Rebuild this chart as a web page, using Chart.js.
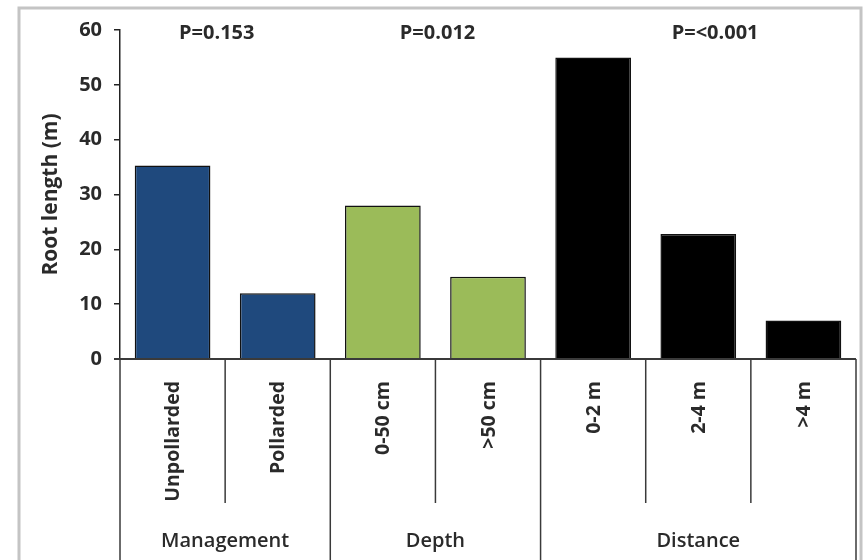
<!DOCTYPE html>
<html>
<head>
<meta charset="utf-8">
<script src="https://cdn.jsdelivr.net/npm/chart.js@4"></script>
<style>
  body { margin: 0; background: #fff; }
  #wrap { position: relative; width: 865px; height: 560px; }
</style>
</head>
<body>
<div id="wrap"><canvas id="rootChart" width="865" height="560"></canvas></div>
<script>
const categories = ['Unpollarded', 'Pollarded', '0-50 cm', '>50 cm', '0-2 m', '2-4 m', '>4 m'];
const rootLength = [35.3, 12, 28, 15, 55, 22.8, 7];
const groups = ['Management', 'Depth', 'Distance'];
const groupSizes = [2, 2, 3];
const pValues = ['P=0.153', 'P=0.012', 'P=<0.001'];
const groupColors = ['#1F497D', '#9BBB59', '#000000'];

const fontFamily = '"Open Sans", Lato, sans-serif';

// colour of each bar comes from the group it sits in
const barColors = [];
groupSizes.forEach((n, g) => { for (let i = 0; i < n; i++) barColors.push(groupColors[g]); });

// frame, category axis with the two-level labels, and the P values
const axisPlugin = {
    id: 'axisPlugin',
    beforeDraw(chart) {
        const ctx = chart.ctx;
        ctx.save();
        ctx.strokeStyle = '#c4c4c4';
        ctx.lineWidth = 3;
        ctx.strokeRect(19, 8, 842, 600);
        ctx.restore();
    },
    afterDraw(chart) {
        const ctx = chart.ctx;
        const x = chart.scales.x;
        const area = chart.chartArea;
        const base = chart.scales.y.getPixelForValue(0);
        const edge = i => x.getPixelForValue(i - 0.5);

        ctx.save();
        ctx.strokeStyle = '#3a3a3a';
        ctx.lineWidth = 2;
        ctx.beginPath();
        ctx.moveTo(area.left - 6, base);
        ctx.lineTo(edge(categories.length), base);
        ctx.stroke();

        ctx.lineWidth = 1.5;
        let start = 0;
        const groupEdges = [0];
        groupSizes.forEach(n => { start += n; groupEdges.push(start); });
        for (let i = 0; i <= categories.length; i++) {
            const isGroupEdge = groupEdges.includes(i);
            ctx.beginPath();
            ctx.moveTo(edge(i), base);
            ctx.lineTo(edge(i), isGroupEdge ? 560 : 503);
            ctx.stroke();
        }

        // category labels, rotated
        ctx.fillStyle = '#2a2a2a';
        ctx.font = 'bold 19.5px ' + fontFamily;
        ctx.textAlign = 'right';
        ctx.textBaseline = 'middle';
        categories.forEach((c, i) => {
            ctx.save();
            ctx.translate(x.getPixelForValue(i) + 1, 381);
            ctx.rotate(-Math.PI / 2);
            ctx.fillText(c, 0, 0);
            ctx.restore();
        });

        // group labels and P values
        ctx.textAlign = 'center';
        ctx.font = '600 20px ' + fontFamily;
        groups.forEach((g, k) => {
            const mid = (edge(groupEdges[k]) + edge(groupEdges[k + 1])) / 2;
            ctx.fillText(g, mid, 541);
        });
        const pAnchor = [0.42, 2.52, 5.16];
        ctx.font = 'bold 20px ' + fontFamily;
        pValues.forEach((p, k) => {
            ctx.fillText(p, x.getPixelForValue(pAnchor[k]), 33);
        });
        ctx.restore();
    }
};

new Chart(document.getElementById('rootChart').getContext('2d'), {
    type: 'bar',
    data: {
        labels: categories,
        datasets: [{
            label: 'Root length (m)',
            data: rootLength,
            backgroundColor: barColors,
            borderColor: '#111',
            borderWidth: 1.5,
            barPercentage: 0.72,
            categoryPercentage: 1
        }]
    },
    options: {
        responsive: false,
        animation: false,
        layout: { padding: { left: 34, top: 30, right: 9, bottom: 201 } },
        plugins: { legend: { display: false }, tooltip: { enabled: false } },
        scales: {
            x: { display: false },
            y: {
                min: 0,
                max: 60,
                afterFit(scale) { scale.width = 86; },
                ticks: {
                    stepSize: 10,
                    padding: 12,
                    color: '#2a2a2a',
                    font: { family: fontFamily, size: 20, weight: 'bold' }
                },
                grid: { drawOnChartArea: false, tickLength: 6, tickColor: '#222', lineWidth: 1.5 },
                border: { display: true, color: '#222', width: 1.5 },
                title: {
                    display: true,
                    text: 'Root length (m)',
                    color: '#2a2a2a',
                    font: { family: fontFamily, size: 21, weight: 'bold' }
                }
            }
        }
    },
    plugins: [axisPlugin]
});
</script>
</body>
</html>
